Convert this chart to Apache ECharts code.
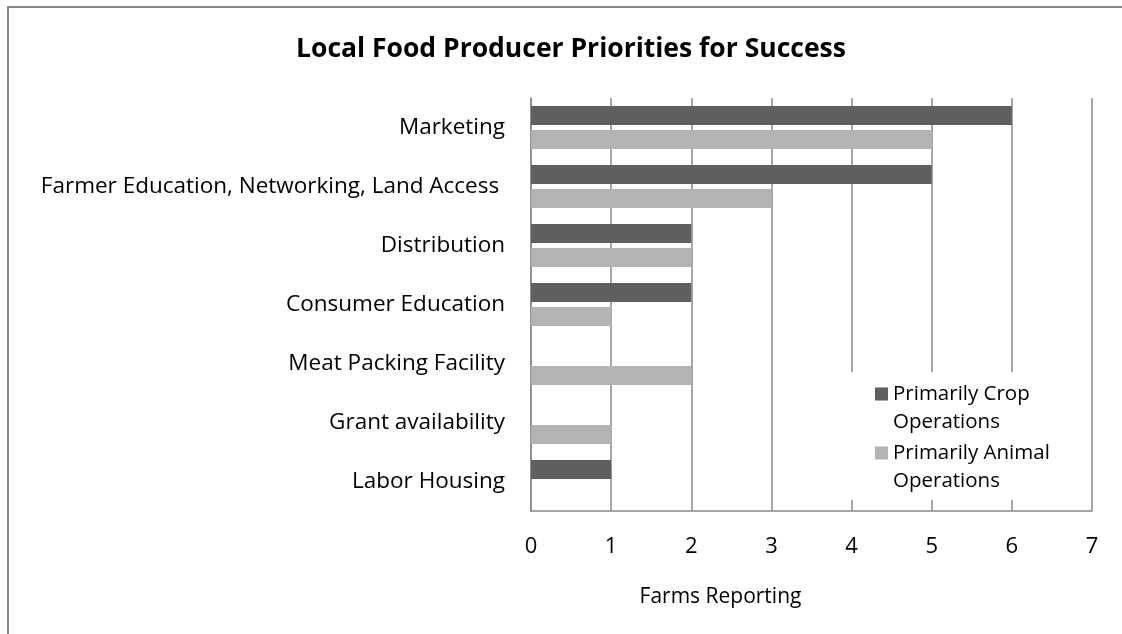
<!DOCTYPE html>
<html>
<head>
<meta charset="utf-8">
<script src="https://cdn.jsdelivr.net/npm/echarts@6/dist/echarts.min.js"></script>
<style>
html,body{margin:0;padding:0;background:#fff;}
#c{width:1122px;height:634px;}
</style>
</head>
<body>
<div id="c"></div>
<script>
const categories = ['Marketing', 'Farmer Education, Networking, Land Access ', 'Distribution', 'Consumer Education', 'Meat Packing Facility', 'Grant availability', 'Labor Housing'];
const cropValues = [6, 5, 2, 2, 0, 0, 1];
const animalValues = [5, 3, 2, 1, 2, 1, 0];
const seriesNames = ['Primarily Crop\nOperations', 'Primarily Animal\nOperations'];
const xTicks = [0, 7, 1];

const FONT = 'Open Sans';
const chart = echarts.init(document.getElementById('c'), null, {renderer: 'canvas'});
const legendIcon = 'path://M0,0h13v13h-13z M0,40.9h0.01v0.01h-0.01z';

chart.setOption({
  backgroundColor: '#fff',
  animation: false,
  title: {
    text: 'Local Food Producer Priorities for Success',
    left: 296,
    top: 36,
    padding: 0,
    textStyle: {fontFamily: FONT, fontWeight: 'bold', fontSize: 26.5, color: '#000'}
  },
  graphic: [
    {type: 'polyline', shape: {points: [[8, 634], [8, 7], [1122, 7]]}, style: {stroke: '#878787', lineWidth: 2, fill: null}, z: 10}
  ],
  legend: {
    orient: 'vertical',
    left: 848,
    top: 372,
    padding: [8, 32, 5, 27],
    itemGap: 3,
    itemWidth: 13,
    itemHeight: 41,
    backgroundColor: '#fff',
    icon: legendIcon,
    textStyle: {fontFamily: FONT, fontSize: 20.5, color: '#000', lineHeight: 28},
    data: seriesNames
  },
  grid: {left: 531, right: 30, top: 98, bottom: 123},
  xAxis: {
    type: 'value',
    min: xTicks[0], max: xTicks[1], interval: xTicks[2],
    name: 'Farms Reporting',
    nameLocation: 'middle',
    nameGap: 76,
    nameTextStyle: {fontFamily: FONT, fontSize: 21, color: '#000', padding: [0, 182, 0, 0]},
    axisLine: {show: true, lineStyle: {color: '#888', width: 1.5}},
    axisTick: {show: false},
    axisLabel: {fontFamily: FONT, fontSize: 22, color: '#000', margin: 25},
    splitLine: {show: true, lineStyle: {color: '#888', width: 1.5}}
  },
  yAxis: {
    type: 'category',
    inverse: true,
    data: categories,
    axisLine: {show: true, lineStyle: {color: '#888', width: 1.5}},
    axisTick: {show: false},
    axisLabel: {fontFamily: FONT, fontSize: 22.5, color: '#000', margin: 26}
  },
  series: [
    {name: seriesNames[0], type: 'bar', data: cropValues, barWidth: 19, barGap: '26%', itemStyle: {color: '#5f5f5f'}},
    {name: seriesNames[1], type: 'bar', data: animalValues, barWidth: 19, barGap: '26%', itemStyle: {color: '#b3b3b3'}}
  ]
});
</script>
</body>
</html>
